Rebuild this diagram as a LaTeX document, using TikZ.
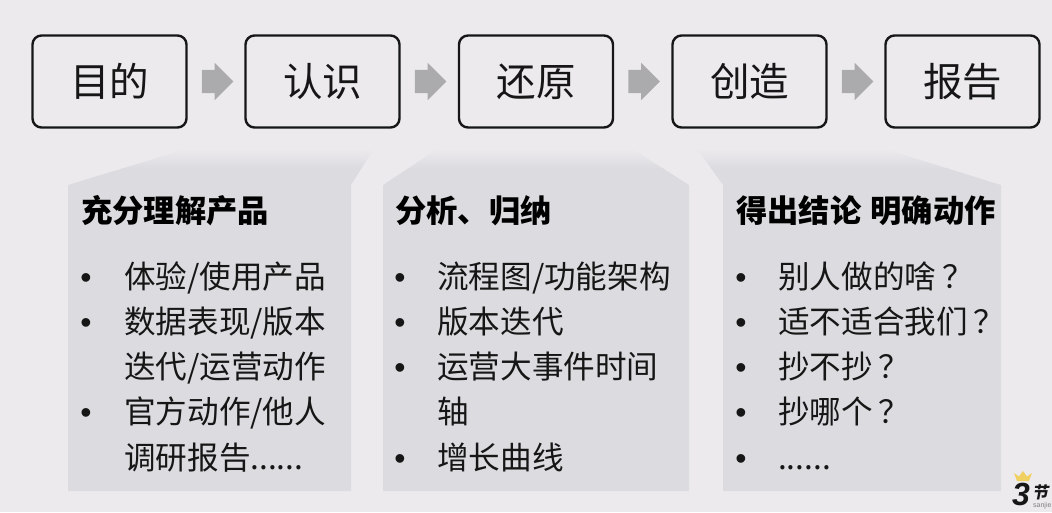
\documentclass[tikz,border=0pt]{standalone}
\usepackage{fontspec}
\setmainfont{Noto Sans CJK SC}
\newfontfamily\latinf{Liberation Sans}
\usetikzlibrary{shapes.arrows,calc}
\definecolor{bgc}{HTML}{ECEAED}
\definecolor{panelc}{HTML}{DCDCE0}
\definecolor{inkc}{HTML}{161616}
\definecolor{arrowc}{HTML}{ABABAD}
\definecolor{crownc}{HTML}{F0D060}
\newcommand{\qm}{\kern6pt ？}
\tikzset{
  stepbox/.style={draw=inkc,line width=2.4pt,rounded corners=9pt,minimum width=154pt,minimum height=92pt,inner sep=0pt,text=inkc,font=\fontsize{39.5}{39.5}\selectfont},
  flowarrow/.style={single arrow,anchor=tail,fill=arrowc,draw=none,minimum height=31.5pt,single arrow head extend=7pt,single arrow head indent=0pt,inner xsep=0pt,inner ysep=11.5pt},
  headtext/.style={anchor=base west,inner sep=0pt,text=black,font=\fontsize{31.3}{31.3}\selectfont\bfseries},
  itemtext/.style={anchor=base west,inner sep=0pt,text=inkc,font=\fontsize{31.6}{31.6}\selectfont},
  dotmark/.style={anchor=base,inner sep=0pt,text=inkc,font=\latinf\fontsize{32}{32}\selectfont}
}
\newcommand{\panelshape}[1]{%
  \begin{scope}
    \clip #1;
    \shade[top color=bgc,bottom color=panelc] (0,148) rectangle (1052,168);
    \fill[panelc] (0,167.5) rectangle (1052,495);
  \end{scope}}
\begin{document}
\begin{tikzpicture}[x=1pt,y=-1pt]
\fill[bgc] (0,0) rectangle (1052,512);
\useasboundingbox (0,0) rectangle (1052,512);
% panels
\panelshape{(68,185) -- (183,150) -- (373,150) -- (351,185) -- (351,491) -- (68,491) -- cycle}
\panelshape{(383,185) -- (436,150) -- (634,150) -- (689,185) -- (689,491) -- (383,491) -- cycle}
\panelshape{(723,185) -- (698,150) -- (888,150) -- (1001,185) -- (1001,491) -- (723,491) -- cycle}
% boxes
\node[stepbox] (b1) at (109.5,81.5) {目的};
\node[stepbox] (b2) at (322.5,81.5) {认识};
\node[stepbox] (b3) at (536,81.5) {还原};
\node[stepbox] (b4) at (749.5,81.5) {创造};
\node[stepbox] (b5) at (962.5,81.5) {报告};
% arrows
\node[flowarrow] (a1) at ($(b1.east)+(14,0)$) {};
\node[flowarrow] (a2) at ($(b2.east)+(14,0)$) {};
\node[flowarrow] (a3) at ($(b3.east)+(14,0)$) {};
\node[flowarrow] (a4) at ($(b4.east)+(14,0)$) {};
% panel 1
\node[headtext] (h1) at (81,222) {充分理解产品};
\node[dotmark] (d11) at (86,288) {•};
\node[itemtext] (t11) at (124,288) {体验/使用产品};
\node[dotmark] (d12) at (86,333) {•};
\node[itemtext] (t12) at (124,333) {数据表现/版本};
\node[itemtext] (t13) at (124,378) {迭代/运营动作};
\node[dotmark] (d13) at (86,423) {•};
\node[itemtext] (t14) at (124,423) {官方动作/他人};
\node[itemtext] (t15) at (124,469) {调研报告......};
% panel 2
\node[headtext] (h2) at (395,222) {分析、归纳};
\node[dotmark] (d21) at (400,288) {•};
\node[itemtext] (t21) at (437,288) {流程图/功能架构};
\node[dotmark] (d22) at (400,333) {•};
\node[itemtext] (t22) at (437,333) {版本迭代};
\node[dotmark] (d23) at (400,378) {•};
\node[itemtext] (t23) at (437,378) {运营大事件时间};
\node[itemtext] (t24) at (437,423) {轴};
\node[dotmark] (d24) at (400,469) {•};
\node[itemtext] (t25) at (437,469) {增长曲线};
% panel 3
\node[headtext] (h3) at (736,222) {得出结论\kern2pt\ 明确动作};
\node[dotmark] (d31) at (741,288) {•};
\node[itemtext] (t31) at (778,288) {别人做的啥\qm};
\node[dotmark] (d32) at (741,333) {•};
\node[itemtext] (t32) at (778,333) {适不适合我们\qm};
\node[dotmark] (d33) at (741,378) {•};
\node[itemtext] (t33) at (778,378) {抄不抄\qm};
\node[dotmark] (d34) at (741,423) {•};
\node[itemtext] (t34) at (778,423) {抄哪个\qm};
\node[dotmark] (d35) at (741,469) {•};
\node[itemtext] (t35) at (778,469) {......};
% logo
\fill[crownc] (1017,481) -- (1014,473) -- (1019,476.5) -- (1023,471) -- (1027,476.5) -- (1032,473) -- (1029,481) -- cycle;
\node[anchor=base west,inner sep=0pt,text=inkc,font=\latinf\bfseries\itshape\fontsize{32}{32}\selectfont] (logo3) at (1012,505) {3};
\node[anchor=base west,inner sep=0pt,text=inkc,xslant=0.2,font=\fontsize{16}{16}\selectfont\bfseries] (logoj) at (1032,498) {节};
\node[anchor=base west,inner sep=0pt,text=gray,font=\latinf\fontsize{7}{7}\selectfont] (logos) at (1033,507) {sanjie};
\end{tikzpicture}
\end{document}
